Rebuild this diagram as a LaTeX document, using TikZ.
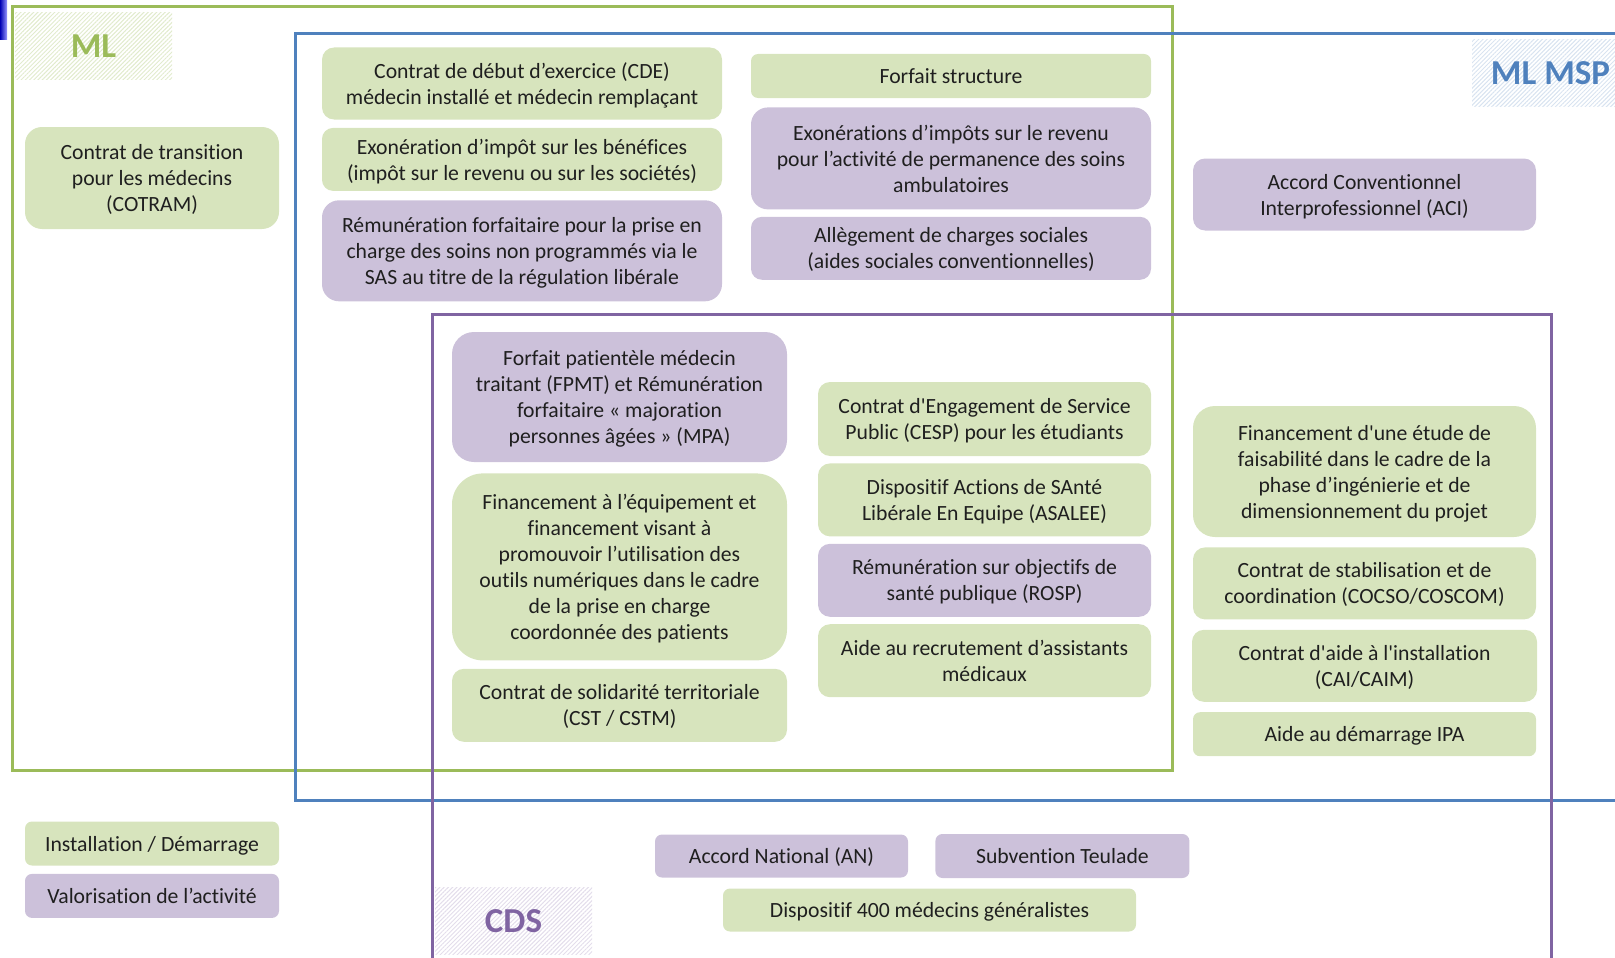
\documentclass[tikz,border=0pt]{standalone}
\usepackage{fontspec}
\setmainfont{Carlito}[Ligatures={NoCommon}]
\usetikzlibrary{positioning,patterns.meta}
\definecolor{vertML}{HTML}{9BBB59}
\definecolor{bleuMSP}{HTML}{4F81BD}
\definecolor{violetCDS}{HTML}{8064A2}
\definecolor{vertclair}{HTML}{D7E4BD}
\definecolor{violetclair}{HTML}{CCC1DA}
\newcommand{\apos}{\textquotesingle}

\begin{document}
\begin{tikzpicture}[x=1pt, y=-1pt, font=\fontsize{21.7}{26}\selectfont, node distance=8pt,
  boite/.style={align=center, text=black!88, inner sep=4pt, text depth=0pt},
  inst/.style={boite, fill=vertclair, rounded corners=#1}, inst/.default=12pt,
  valo/.style={boite, fill=violetclair, rounded corners=#1}, valo/.default=12pt,
  zone/.style={line width=3pt},
  etiq/.style={minimum width=157pt, minimum height=67pt, inner sep=0pt,
    pattern={Lines[angle=45, distance=3pt, line width=1pt]}, font=\fontsize{35}{40}\selectfont\bfseries}]
\path[use as bounding box] (0,0) rectangle (1615,958);
\clip (0,0) rectangle (1615,958);
\shade[left color=blue!70!black, right color=blue!40!white] (0,0) rectangle (7,40);

\draw[zone, vertML] (12,7) rectangle (1172,770);
\draw[zone, bleuMSP] (295,34) rectangle (1660,800);
\draw[zone, violetCDS] (432,314) rectangle (1551,1000);

\node[etiq, pattern color=vertML!30, text=vertML] (lml) at (93.5,46.5) {ML};
\node[etiq, pattern color=bleuMSP!22, text=bleuMSP] (lmsp) at (1550.5,73) {ML MSP};
\node[etiq, pattern color=violetCDS!22, text=violetCDS] (lcds) at (513.5,921) {CDS};

\node[inst=17pt, minimum width=254pt, minimum height=102pt] (cotram) at (152,178) {Contrat de transition\\pour les médecins\\(COTRAM)};

\node[inst, minimum width=400pt, minimum height=72pt] (cde) at (522,83.5) {Contrat de début d’exercice (CDE)\\médecin installé et médecin remplaçant};
\node[inst=11pt, minimum width=400pt, minimum height=63pt, below=of cde] (benef) {Exonération d’impôt sur les bénéfices\\(impôt sur le revenu ou sur les sociétés)};
\node[valo=17pt, minimum width=400pt, minimum height=101pt, below=9pt of benef] (sas) {Rémunération forfaitaire pour la prise en\\charge des soins non programmés via le\\SAS au titre de la régulation libérale};

\node[inst=7pt, minimum width=400pt, minimum height=44pt] (structure) at (951,76) {Forfait structure};
\node[valo=17pt, minimum width=400pt, minimum height=102pt, below=9pt of structure] (pdsa) {Exonérations d’impôts sur le revenu\\pour l’activité de permanence des soins\\ambulatoires};
\node[valo=11pt, minimum width=400pt, minimum height=63pt, below=7pt of pdsa] (charges) {Allègement de charges sociales\\(aides sociales conventionnelles)};

\node[valo, minimum width=343pt, minimum height=72pt] (aci) at (1364.5,194.5) {Accord Conventionnel\\Interprofessionnel (ACI)};

\node[valo=22pt, minimum width=335pt, minimum height=130pt] (fpmt) at (619.5,397) {Forfait patientèle médecin\\traitant (FPMT) et Rémunération\\forfaitaire « majoration\\personnes âgées » (MPA)};
\node[inst=31pt, minimum width=335pt, minimum height=187pt, below=11pt of fpmt] (numerique) {Financement à l’équipement et\\financement visant à\\promouvoir l’utilisation des\\outils numériques dans le cadre\\de la prise en charge\\coordonnée des patients};
\node[inst, minimum width=335pt, minimum height=73pt, below=of numerique] (cst) {Contrat de solidarité territoriale\\(CST / CSTM)};

\node[inst, minimum width=333pt, minimum height=74pt] (cesp) at (984.5,419) {Contrat d\apos Engagement de Service\\Public (CESP) pour les étudiants};
\node[inst, minimum width=333pt, minimum height=73pt, below=7pt of cesp] (asalee) {Dispositif Actions de SAnté\\Libérale En Equipe (ASALEE)};
\node[valo, minimum width=333pt, minimum height=73pt, below=7pt of asalee] (rosp) {Rémunération sur objectifs de\\santé publique (ROSP)};
\node[inst, minimum width=333pt, minimum height=73pt, below=7pt of rosp] (assist) {Aide au recrutement d’assistants\\médicaux};

\node[inst=22pt, minimum width=343pt, minimum height=131pt] (etude) at (1364.5,471.5) {Financement d\apos une étude de\\faisabilité dans le cadre de la\\phase d’ingénierie et de\\dimensionnement du projet};
\node[inst, minimum width=343pt, minimum height=72pt, below=10pt of etude] (cocso) {Contrat de stabilisation et de\\coordination (COCSO/COSCOM)};
\node[inst, minimum width=345pt, minimum height=72pt, below=10pt of cocso] (cai) {Contrat d\apos aide à l\apos installation\\(CAI/CAIM)};
\node[inst=7pt, minimum width=343pt, minimum height=44pt, below=10pt of cai] (ipa) {Aide au démarrage IPA};

\node[valo=7pt, minimum width=253pt, minimum height=43pt] (an) at (781.5,856) {Accord National (AN)};
\node[valo=7pt, minimum width=254pt, minimum height=44pt, right=27pt of an] (teulade) {Subvention Teulade};
\node[inst=7pt, minimum width=413pt, minimum height=43pt] (med400) at (929.5,910) {Dispositif 400 médecins généralistes};

\node[inst=7pt, minimum width=254pt, minimum height=44pt] (leginst) at (152,843.5) {Installation / Démarrage};
\node[valo=7pt, minimum width=254pt, minimum height=44pt, below=of leginst] (legvalo) {Valorisation de l’activité};
\end{tikzpicture}
\end{document}
